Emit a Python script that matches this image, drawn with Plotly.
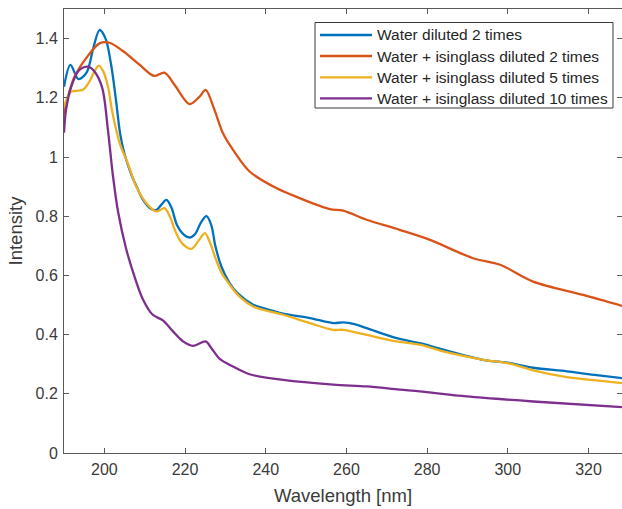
import plotly.graph_objects as go

# Water diluted 2 times
wl_water2 = [190.0, 191.6, 193.6, 195.6, 197.3, 198.8, 200.3, 201.7, 202.9, 203.9, 205.0, 206.7, 208.0, 209.6,
             211.5, 212.9, 214.2, 215.4, 216.6, 218.0, 219.5, 221.1, 222.5, 224.0, 225.3, 226.5, 227.5, 229.0,
             231.0, 233.0, 236.9, 240.0, 244.3, 250.9, 256.7, 259.2, 262.0, 265.0, 272.4, 278.2, 284.0, 293.9,
             300.5, 306.3, 314.6, 322.0, 328.3]
int_water2 = [1.237, 1.311, 1.263, 1.285, 1.37, 1.429, 1.40, 1.31, 1.19, 1.08, 1.01, 0.94, 0.90, 0.855,
              0.825, 0.821, 0.84, 0.855, 0.83, 0.77, 0.74, 0.728, 0.74, 0.78, 0.80, 0.77, 0.70, 0.63,
              0.575, 0.54, 0.501, 0.487, 0.471, 0.456, 0.439, 0.441, 0.435, 0.422, 0.388, 0.371, 0.349, 0.315,
              0.304, 0.288, 0.276, 0.263, 0.253]

# Water + isinglass diluted 2 times
wl_isg2 = [190.0, 191.0, 192.6, 195.5, 198.8, 201.3, 204.6, 208.7, 212.3, 214.9, 217.6, 221.1, 223.6, 225.1,
           227.3, 229.4, 231.9, 236.0, 242.6, 248.4, 255.9, 259.2, 265.0, 273.2, 280.7, 291.4, 298.1, 306.3,
           318.7, 328.3]
int_isg2 = [1.142, 1.204, 1.271, 1.334, 1.384, 1.386, 1.358, 1.312, 1.274, 1.285, 1.24, 1.179, 1.204, 1.227,
            1.159, 1.08, 1.024, 0.951, 0.895, 0.861, 0.824, 0.819, 0.788, 0.754, 0.72, 0.658, 0.636, 0.579,
            0.534, 0.497]

# Water + isinglass diluted 5 times
wl_isg5 = [190.0, 191.0, 191.8, 194.7, 196.3, 197.6, 198.6, 199.7, 200.9, 202.0, 203.8, 205.8, 207.9, 210.4,
           212.9, 214.9, 216.2, 217.8, 219.5, 221.6, 223.5, 224.9, 226.2, 227.5, 229.0, 231.0, 233.0, 236.9,
           244.3, 250.9, 256.7, 259.2, 265.0, 272.4, 278.2, 284.0, 293.9, 300.5, 306.3, 314.6, 322.0, 328.3]
int_isg5 = [1.17, 1.205, 1.221, 1.227, 1.255, 1.29, 1.309, 1.29, 1.238, 1.15, 1.047, 0.979, 0.90, 0.844,
            0.816, 0.827, 0.80, 0.743, 0.705, 0.690, 0.72, 0.743, 0.71, 0.66, 0.61, 0.57, 0.535, 0.495,
            0.467, 0.439, 0.416, 0.416, 0.399, 0.377, 0.366, 0.343, 0.315, 0.302, 0.279, 0.256, 0.245, 0.236]

# Water + isinglass diluted 10 times
wl_isg10 = [190.0, 190.5, 191.8, 193.8, 195.9, 197.6, 199.5, 200.9, 202.1, 203.4, 205.4, 207.5, 209.6, 212.0,
            214.5, 217.0, 219.5, 222.0, 225.1, 226.5, 228.6, 231.9, 236.0, 244.3, 256.7, 265.0, 273.2, 278.2,
            289.8, 306.3, 328.3]
int_isg10 = [1.082, 1.159, 1.238, 1.294, 1.305, 1.288, 1.232, 1.09, 0.94, 0.815, 0.69, 0.595, 0.518, 0.467,
             0.448, 0.411, 0.377, 0.362, 0.377, 0.355, 0.318, 0.292, 0.266, 0.247, 0.231, 0.225, 0.214, 0.208,
             0.191, 0.174, 0.155]

names = ["Water diluted 2 times", "Water + isinglass diluted 2 times",
         "Water + isinglass diluted 5 times", "Water + isinglass diluted 10 times"]
colors = ["#0072BD", "#D95319", "#EDB120", "#7E2F8E"]
series = [(wl_water2, int_water2), (wl_isg2, int_isg2), (wl_isg5, int_isg5), (wl_isg10, int_isg10)]

x_ticks = [200, 220, 240, 260, 280, 300, 320]
y_ticks = [0, 0.2, 0.4, 0.6, 0.8, 1, 1.2, 1.4]

W, H = 622, 509
ML, MR, MT, MB = 64, 0, 9, 56
PW, PH = W - ML - MR, H - MT - MB

def px(xp):
    return (xp - ML) / PW

def py(yp):
    return (H - MB - yp) / PH

fig = go.Figure()
for (x, y), n, c in zip(series, names, colors):
    fig.add_trace(go.Scatter(x=x, y=y, name=n, mode="lines", showlegend=False,
                             line=dict(color=c, width=2.3, shape="spline", smoothing=0.9)))

font = "Liberation Sans, Arial, sans-serif"
axis_common = dict(showgrid=False, zeroline=False, showline=True, linecolor="#5a5a5a", linewidth=1,
                   ticks="inside", ticklen=5, tickcolor="#5a5a5a", mirror="ticks",
                   tickfont=dict(family=font, size=16, color="#3a3a3a"))

# custom legend box (matching the reference's compact MATLAB-style legend)
shapes = [dict(type="rect", xref="paper", yref="paper", x0=px(315), x1=px(613), y0=py(108), y1=py(22.5),
               line=dict(color="#3a3a3a", width=1), fillcolor="white", layer="above")]
annotations = []
row_y = [35, 56, 77.3, 98.3]
for n, c, ry in zip(names, colors, row_y):
    shapes.append(dict(type="line", xref="paper", yref="paper", x0=px(320), x1=px(372), y0=py(ry), y1=py(ry),
                       line=dict(color=c, width=2.3), layer="above"))
    annotations.append(dict(text=n, xref="paper", yref="paper", x=px(375), y=py(ry), xanchor="left",
                            yanchor="middle", showarrow=False,
                            font=dict(family=font, size=15.5, color="#262626")))

fig.update_layout(
    width=W, height=H,
    margin=dict(l=ML, r=MR, t=MT, b=MB),
    paper_bgcolor="white", plot_bgcolor="white",
    font=dict(family=font, color="#3a3a3a"),
    xaxis=dict(range=[190, 328.3], tickvals=x_ticks, ticklabelstandoff=2,
               title=dict(text="Wavelength [nm]", font=dict(size=18.5), standoff=11), **axis_common),
    yaxis=dict(range=[0, 1.5], tickvals=y_ticks, ticklabelstandoff=2,
               title=dict(text="Intensity", font=dict(size=18.5), standoff=8), **axis_common),
    shapes=shapes,
    annotations=annotations,
    showlegend=False,
)

fig.write_html("out.html")
